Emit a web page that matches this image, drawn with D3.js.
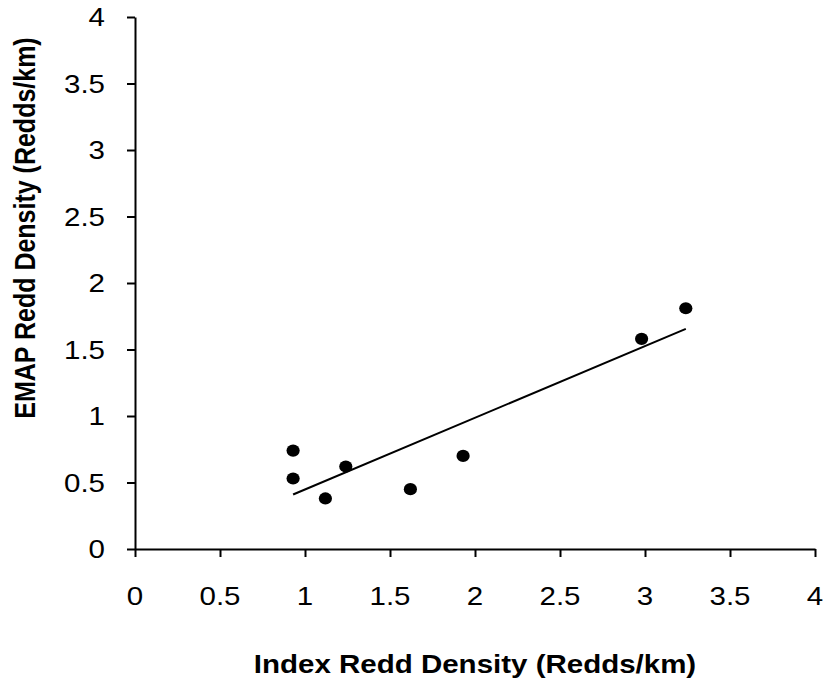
<!DOCTYPE html>
<html>
<head>
<meta charset="utf-8">
<script src="https://cdn.jsdelivr.net/npm/d3@7"></script>
<style>
  html, body { margin: 0; padding: 0; background: #fff; }
  svg { display: block; }
  text { font-family: "Liberation Sans", Arial, sans-serif; fill: #000; }
</style>
</head>
<body>
<svg id="chart" width="828" height="684"></svg>
<script>
// Index vs EMAP redd density observations (redds/km)
const indexDensity = [0.93, 0.93, 1.12, 1.24, 1.62, 1.93, 2.98, 3.24];
const emapDensity  = [0.74, 0.53, 0.38, 0.62, 0.45, 0.70, 1.58, 1.81];
const xTicks = [0, 0.5, 1, 1.5, 2, 2.5, 3, 3.5, 4];
const yTicks = [0, 0.5, 1, 1.5, 2, 2.5, 3, 3.5, 4];
const xTitle = "Index Redd Density (Redds/km)";
const yTitle = "EMAP Redd Density (Redds/km)";

const svg = d3.select("#chart");
const W = 828, H = 684;
const margin = { left: 135, right: 13, top: 17, bottom: 135 };
const wide = 1.18;        // glyphs are drawn slightly wide
const fontSize = 25;

const x = d3.scaleLinear().domain([0, 4]).range([margin.left, W - margin.right]);
const y = d3.scaleLinear().domain([0, 4]).range([H - margin.bottom, margin.top]);

// axis lines and ticks
const xAxis = svg.append("g")
  .attr("transform", `translate(0,${y(0)})`)
  .call(d3.axisBottom(x).tickValues(xTicks).tickSize(8)
    .tickFormat("").tickSizeOuter(0));
const yAxis = svg.append("g")
  .attr("transform", `translate(${x(0)},0)`)
  .call(d3.axisLeft(y).tickValues(yTicks).tickSize(8)
    .tickFormat("").tickSizeOuter(0));
[xAxis, yAxis].forEach(g => {
  g.selectAll(".domain").attr("stroke", "#000").attr("stroke-width", 2);
  g.selectAll(".tick line").attr("stroke", "#000").attr("stroke-width", 2);
  g.selectAll(".tick text").remove();
});

// tick labels
const fmt = d3.format("");
svg.append("g").selectAll("text")
  .data(xTicks).join("text")
  .attr("transform", d => `translate(${x(d)},605) scale(${wide},1)`)
  .attr("text-anchor", "middle")
  .style("font-size", fontSize + "px")
  .text(fmt);
svg.append("g").selectAll("text")
  .data(yTicks).join("text")
  .attr("transform", d => `translate(${x(0) - 30},${y(d)}) scale(${wide},1)`)
  .attr("text-anchor", "end")
  .attr("dy", "0.36em")
  .style("font-size", fontSize + "px")
  .text(fmt);

// least-squares trend line over the observed range
const n = indexDensity.length;
const mx = d3.mean(indexDensity), my = d3.mean(emapDensity);
let sxy = 0, sxx = 0;
for (let i = 0; i < n; i++) {
  sxy += (indexDensity[i] - mx) * (emapDensity[i] - my);
  sxx += (indexDensity[i] - mx) ** 2;
}
const slope = sxy / sxx, intercept = my - slope * mx;
const [x0, x1] = d3.extent(indexDensity);
svg.append("line")
  .attr("x1", x(x0)).attr("y1", y(intercept + slope * x0))
  .attr("x2", x(x1)).attr("y2", y(intercept + slope * x1))
  .attr("stroke", "#000").attr("stroke-width", 2);

// observations
svg.append("g").selectAll("ellipse")
  .data(indexDensity.map((v, i) => [v, emapDensity[i]]))
  .join("ellipse")
  .attr("cx", d => x(d[0])).attr("cy", d => y(d[1]))
  .attr("rx", 6.6).attr("ry", 6.1).attr("fill", "#000");

// axis titles
svg.append("text")
  .attr("transform", `translate(${(x(0) + x(4)) / 2},673) scale(${wide},1)`)
  .attr("text-anchor", "middle")
  .style("font-size", fontSize + "px").style("font-weight", "bold")
  .text(xTitle);
svg.append("text")
  .attr("transform", `translate(35,228) rotate(-90) scale(1,${wide})`)
  .attr("text-anchor", "middle")
  .style("font-size", fontSize + "px").style("font-weight", "bold")
  .text(yTitle);
</script>
</body>
</html>
